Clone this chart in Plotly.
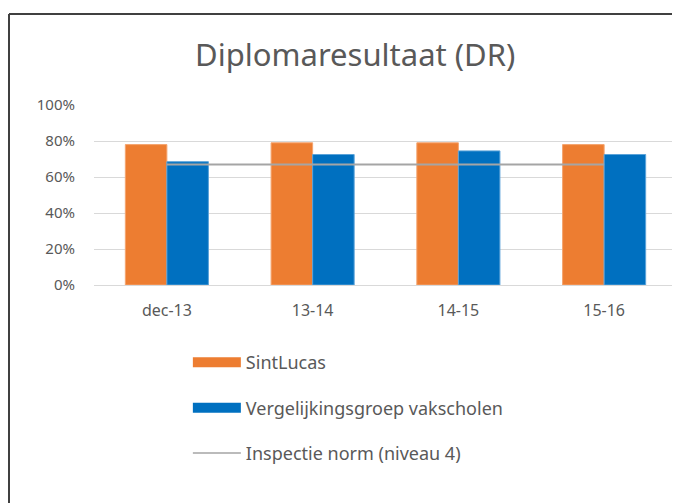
import plotly.graph_objects as go

categories = ["dec-13", "13-14", "14-15", "15-16"]
sintlucas = [0.78, 0.79, 0.79, 0.78]
vergelijking = [0.685, 0.725, 0.745, 0.725]
norm = [0.67, 0.67, 0.67, 0.67]
y_ticks = [0, 0.2, 0.4, 0.6, 0.8, 1.0]

TXT = "#595959"
FONT = "Noto Sans"
ORANGE = "#ED7D31"
BLUE = "#0070C0"
GREY = "#A5A5A5"

fig = go.Figure()
fig.add_trace(go.Bar(x=categories, y=sintlucas, name="SintLucas",
                     marker=dict(color=ORANGE, line=dict(color="#F4A46F", width=1)),
                     legendgroup="a", showlegend=False))
fig.add_trace(go.Bar(x=categories, y=vergelijking, name="Vergelijkingsgroep vakscholen",
                     marker=dict(color=BLUE, line=dict(color="#5BA3D9", width=1)),
                     legendgroup="b", showlegend=False))
fig.add_trace(go.Scatter(x=categories, y=norm, name="Inspectie norm (niveau 4)",
                         mode="lines", line=dict(color=GREY, width=2),
                         legendgroup="c", showlegend=False))
# legend entries (wide swatches as in the original)
fig.add_trace(go.Scatter(x=[None], y=[None], name="SintLucas", mode="lines",
                         line=dict(color=ORANGE, width=10), legendgroup="a"))
fig.add_trace(go.Scatter(x=[None], y=[None], name="Vergelijkingsgroep vakscholen", mode="lines",
                         line=dict(color=BLUE, width=10), legendgroup="b"))
fig.add_trace(go.Scatter(x=[None], y=[None], name="Inspectie norm (niveau 4)", mode="lines",
                         line=dict(color=GREY, width=1.5), legendgroup="c"))

fig.update_layout(
    width=672, height=495,
    margin=dict(l=86, r=3, t=97, b=218),
    paper_bgcolor="white", plot_bgcolor="white",
    barmode="group", bargap=0.43, bargroupgap=0,
    title=dict(text="Diplomaresultaat (DR)", x=0.448, xref="paper", xanchor="center",
               y=1 - 47.5 / 495, yref="container", yanchor="middle",
               font=dict(family=FONT, size=31, color=TXT)),
    font=dict(family=FONT, size=15, color=TXT),
    showlegend=True,
    legend=dict(orientation="v", x=0.161, y=-0.328, xanchor="left", yanchor="top",
                font=dict(family=FONT, size=18, color=TXT), tracegroupgap=19,
                itemwidth=48, bgcolor="rgba(0,0,0,0)", itemclick="toggle"),
    xaxis=dict(showgrid=False, showline=False, ticks="", ticklabelstandoff=14,
               tickfont=dict(family=FONT, size=16, color=TXT)),
    yaxis=dict(range=[0, 1.0], tickvals=y_ticks, tickformat=".0%", showgrid=True,
               gridcolor="#D9D9D9", gridwidth=1, zeroline=True, zerolinecolor="#D9D9D9",
               zerolinewidth=1, showline=False, ticks="", ticklabelstandoff=18,
               tickfont=dict(family=FONT, size=15, color=TXT)),
    shapes=[
        dict(type="line", xref="paper", yref="paper", x0=-0.1458, x1=1.006,
             y0=1.5056, y1=1.5056, line=dict(color="#404040", width=2)),
        dict(type="line", xref="paper", yref="paper", x0=-0.1458, x1=-0.1458,
             y0=1.5056, y1=-1.22, line=dict(color="#404040", width=2)),
    ],
)

fig.write_html("out.html")
